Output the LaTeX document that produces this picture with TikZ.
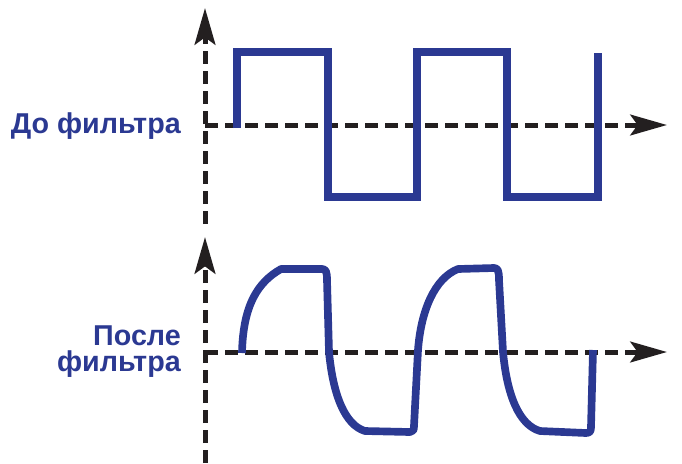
\documentclass[tikz,border=0pt]{standalone}
\usepackage{fontspec}
\setmainfont{Liberation Sans}
\usepackage{tikz}
\usetikzlibrary{arrows.meta, positioning}
\definecolor{sigblue}{RGB}{43,57,146}
\definecolor{axisblack}{RGB}{35,31,32}

\begin{document}
\begin{tikzpicture}[x=0.03cm, y=-0.03cm,
  axis/.style={axisblack, line width=0.15cm, dash pattern={on 0.39cm off 0.21cm},
               -{Stealth[length=1.1cm, width=0.62cm, inset=0.22cm]}},
  wave/.style={sigblue, line width=0.23cm},
  lbl/.style={text=sigblue, font=\bfseries\fontsize{24.5}{22}\selectfont,
              inner sep=0pt, align=right}]

  \useasboundingbox (0,0) rectangle (682,463);

  % axes
  \coordinate (topbot)  at (205,224);
  \coordinate (toptip)  at (205,8);
  \coordinate (topo)    at (205,125);
  \coordinate (topend)  at (667,125);
  \coordinate (botbot)  at (205,463);
  \coordinate (bottip)  at (205,237);
  \coordinate (boto)    at (205,352);
  \coordinate (botend)  at (667,352);

  \draw[axis] (topbot) -- (toptip);
  \draw[axis] (topo)   -- (topend);
  \draw[axis] (botbot) -- (bottip);
  \draw[axis] (boto)   -- (botend);

  % labels
  \node[lbl, anchor=base east] (before) at (181,133) {До фильтра};
  \node[lbl, anchor=north east] (after) at (181,326) {После\\фильтра};

  % square wave
  \draw[wave, line join=miter] (237,128) -- (237,52) -- (328,52) -- (328,197)
    -- (417,197) -- (417,52) -- (507,52) -- (507,197) -- (598,197) -- (598,53);

  % filtered wave
  \draw[wave, line join=round]
    (242,353) .. controls (243,305) and (258,282) .. (281,269)
    -- (322,269) .. controls (326,269) and (327,272) .. (327,280)
    -- (329,352) .. controls (333,395) and (345,425) .. (365,431)
    -- (410,432) .. controls (413,432) and (414,430) .. (414,426)
    -- (418,350) .. controls (421,310) and (435,278) .. (458,269)
    -- (494,268) .. controls (498,268) and (499,271) .. (499,280)
    -- (503,352) .. controls (507,395) and (519,425) .. (540,431)
    -- (586,433) .. controls (590,433) and (591,431) .. (591,427)
    -- (593,350);
\end{tikzpicture}
\end{document}
